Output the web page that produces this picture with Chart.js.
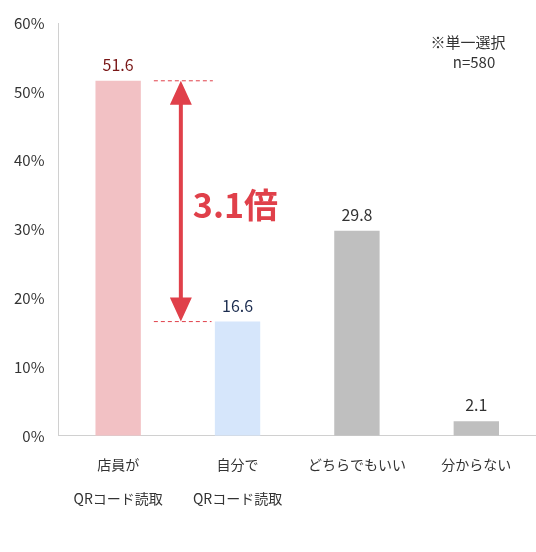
<!DOCTYPE html>
<html><head><meta charset="utf-8">
<script src="https://cdn.jsdelivr.net/npm/chart.js@4"></script>
<style>html,body{margin:0;background:#fff}#wrap{width:536px;height:552px}</style>
</head><body><div id="wrap"><canvas id="c"></canvas></div>
<script>
var labels = [['店員が', 'QRコード読取'], ['自分で', 'QRコード読取'], 'どちらでもいい', '分からない'];
var values = [51.6, 16.6, 29.8, 2.1];
var barColors = ['#F2C1C4', '#D6E6FB', '#BFBFBF', '#BFBFBF'];
var labelColors = ['#7A1818', '#1B2C4F', '#333333', '#333333'];
var yTicks = [0, 10, 20, 30, 40, 50, 60];
var FONT = '"Noto Sans CJK JP", "Noto Sans", sans-serif';

var extras = {
	id: 'extras',
	afterDatasetsDraw: function (chart) {
		var ctx = chart.ctx;
		var x = chart.scales.x, y = chart.scales.y;
		ctx.save();
		ctx.font = '16px ' + FONT;
		ctx.textAlign = 'center';
		ctx.textBaseline = 'bottom';
		for (var i = 0; i < values.length; i++) {
			ctx.fillStyle = labelColors[i];
			ctx.fillText(values[i].toFixed(1), x.getPixelForValue(i), y.getPixelForValue(values[i]) - 8);
		}
		var yTop = y.getPixelForValue(values[0]);
		var yBot = y.getPixelForValue(values[1]);
		var x0 = x.getPixelForValue(0), x1 = x.getPixelForValue(1);
		var ax = (x0 + x1) / 2 + 3;
		ctx.strokeStyle = '#E0404A';
		ctx.lineWidth = 1;
		ctx.setLineDash([4, 3]);
		ctx.beginPath();
		ctx.moveTo(ax - 27, yTop); ctx.lineTo(ax + 32, yTop);
		ctx.moveTo(ax - 27, yBot); ctx.lineTo(x1 - 26, yBot);
		ctx.stroke();
		ctx.setLineDash([]);
		ctx.fillStyle = '#E0404A';
		ctx.lineWidth = 4;
		ctx.beginPath();
		ctx.moveTo(ax, yTop + 18); ctx.lineTo(ax, yBot - 18);
		ctx.stroke();
		ctx.beginPath();
		ctx.moveTo(ax, yTop); ctx.lineTo(ax - 11, yTop + 24); ctx.lineTo(ax + 11, yTop + 24); ctx.closePath();
		ctx.moveTo(ax, yBot); ctx.lineTo(ax - 11, yBot - 24); ctx.lineTo(ax + 11, yBot - 24); ctx.closePath();
		ctx.fill();
		ctx.font = 'bold 34px ' + FONT;
		ctx.textAlign = 'left';
		ctx.textBaseline = 'middle';
		ctx.fillText('3.1倍', ax + 12, y.getPixelForValue(33.5));
		ctx.fillStyle = '#333';
		ctx.font = '15px ' + FONT;
		ctx.textAlign = 'center';
		ctx.fillText('※単一選択', 468, 42);
		ctx.fillText('n=580', 474, 62);
		ctx.restore();
	}
};

new Chart(document.getElementById('c'), {
	type: 'bar',
	data: {
		labels: labels,
		datasets: [{ data: values, backgroundColor: barColors, barPercentage: 0.38, categoryPercentage: 1 }]
	},
	options: {
		responsive: true,
		maintainAspectRatio: false,
		animation: false,
		layout: { padding: { top: 19, right: 0, left: 0, bottom: 25 } },
		plugins: { legend: { display: false }, tooltip: { enabled: false } },
		scales: {
			x: {
				grid: { display: false, drawTicks: false },
				border: { color: '#D0D0D0' },
				ticks: { color: '#333', font: { family: FONT, size: 14, lineHeight: 2.4 }, padding: 12, maxRotation: 0, autoSkip: false }
			},
			y: {
				min: 0, max: 60,
				afterBuildTicks: function (ax) { ax.ticks = yTicks.map(function (v) { return { value: v }; }); },
				grid: { display: false, drawTicks: false },
				border: { color: '#D0D0D0' },
				ticks: { color: '#333', font: { family: FONT, size: 15 }, padding: 14, callback: function (v) { return v + '%'; } }
			}
		}
	},
	plugins: [extras]
});
</script></body></html>
